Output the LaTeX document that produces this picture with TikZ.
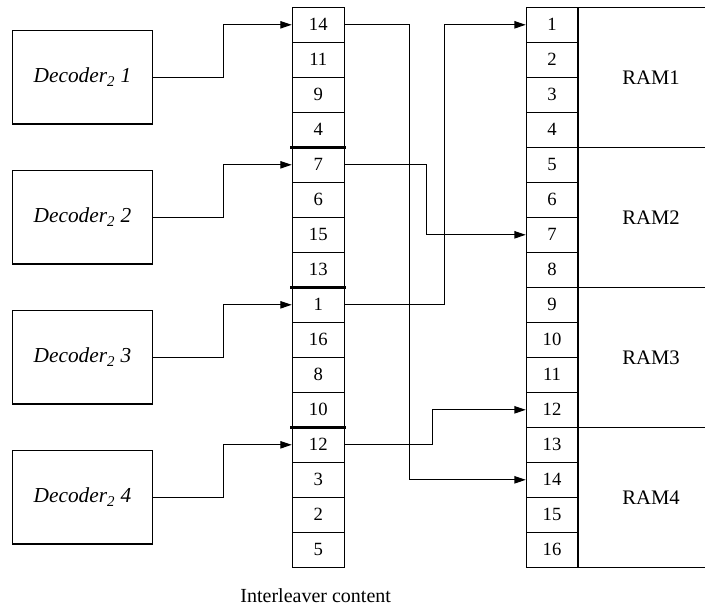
\documentclass[tikz,border=0pt]{standalone}
\usepackage{fontspec}
\setmainfont{Liberation Serif}
\usetikzlibrary{arrows.meta}

\tikzset{
  cell/.style={draw, line width=0.8pt, minimum width=39pt, minimum height=26.25pt,
    inner sep=0pt, font=\fontsize{14}{16}\selectfont},
  decoder/.style={draw, line width=0.8pt, minimum width=105.3pt, minimum height=70pt,
    inner sep=0pt, font=\itshape\fontsize{16}{18}\selectfont},
  ram/.style={draw, line width=0.8pt, minimum width=110pt, minimum height=105pt,
    inner sep=0pt},
  link/.style={line width=0.8pt, -{Triangle[length=8.5pt,width=5.5pt]}},
  split/.style={line width=2.2pt}
}

\begin{document}
\begin{tikzpicture}[x=0.75pt, y=-0.75pt]
  \useasboundingbox (0,0) rectangle (705,610);
  \clip (0,0) rectangle (705,610);

  % RAM banks
  \foreach \k in {1,...,4}
    \node[ram, anchor=north west] (ram\k) at (577.7, {7.3+140*(\k-1)}) {};
  \foreach \k in {1,...,4}
    \node (lab\k) at (651, {77.3+140*(\k-1)}) [font=\fontsize{15.5}{18}\selectfont] {RAM\k};

  % interleaver column
  \foreach \v [count=\i] in {14,11,9,4,7,6,15,13,1,16,8,10,12,3,2,5}
    \node[cell] (m\i) at (318.3, {24.8+35*(\i-1)}) {\v};

  % memory column
  \foreach \i in {1,...,16}
    \node[cell, minimum width=38.5pt] (r\i) at (552, {24.8+35*(\i-1)}) {\i};

  % decoders
  \foreach \k in {1,...,4}
    \node[decoder] (d\k) at (82.5, {77.3+140*(\k-1)}) {Decoder\textsubscript{2} \k};

  % block borders
  \foreach \i in {4,8,12}
    \draw[split] ([xshift=-1]m\i.south west) -- ([xshift=1]m\i.south east);

  % decoder outputs
  \draw[link] (d1.east) -- ++(70,0) |- (m1.west);
  \draw[link] (d2.east) -- ++(70,0) |- (m5.west);
  \draw[link] (d3.east) -- ++(70,0) |- (m9.west);
  \draw[link] (d4.east) -- ++(70,0) |- (m13.west);

  % writes to memory
  \draw[link] (m1.east) -- ++(65,0) |- (r14.west);
  \draw[link] (m5.east) -- ++(82,0) |- (r7.west);
  \draw[link] (m9.east) -- ++(100,0) |- (r1.west);
  \draw[link] (m13.east) -- ++(88,0) |- (r12.west);

  \node[anchor=base, font=\fontsize{15}{18}\selectfont] (caption) at (315.7, 602.7) {Interleaver content};
\end{tikzpicture}
\end{document}
